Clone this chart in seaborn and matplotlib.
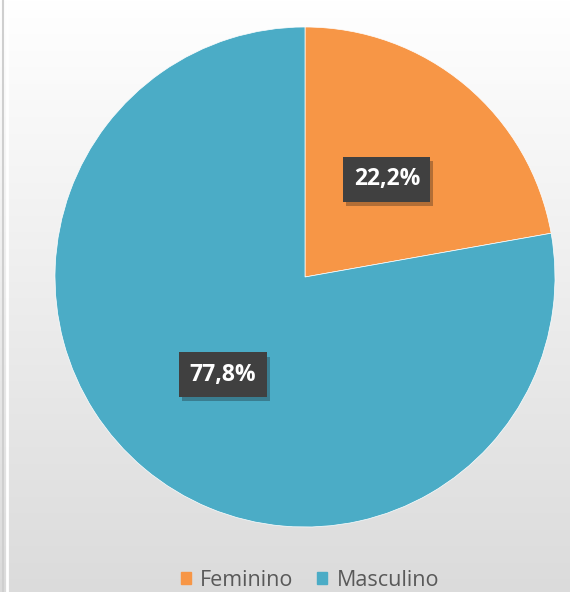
import numpy as np
import matplotlib
matplotlib.use('Agg')
import matplotlib.pyplot as plt
import matplotlib.patches as mpatches
import matplotlib.patheffects as pe
import seaborn as sns

# data
labels = ['Feminino', 'Masculino']
values = [22.2, 77.8]
colors = ['#F79646', '#4BACC6']

sns.set_theme(style='white')
plt.rcParams['font.family'] = ['Open Sans', 'DejaVu Sans']

fig = plt.figure(figsize=(5.70, 5.92), dpi=100)

# background gradient, white at top to light gray at bottom
bg = fig.add_axes([0, 0, 1, 1])
grad = np.linspace(1.0, 0.86, 256).reshape(-1, 1)
bg.imshow(np.dstack([grad, grad, grad]), aspect='auto', extent=[0, 1, 0, 1])
bg.axvline(0.006, color='#cfcfcf', lw=1.5)
bg.axvline(0.013, color='white', lw=2)
bg.set_axis_off()

# pie
ax = fig.add_axes([55 / 570, (592 - 527) / 592, 500 / 570, 500 / 592])
wedges, texts, autotexts = ax.pie(
    values, colors=colors, startangle=90, counterclock=False,
    autopct=lambda p: f'{p:.1f}%'.replace('.', ','), pctdistance=0.51,
    wedgeprops=dict(edgecolor='white', linewidth=0.5),
    textprops=dict(color='white', fontsize=16.5, fontweight='bold'))
for t in autotexts:
    t.set_bbox(dict(boxstyle='square,pad=0.45', fc='#404040', ec='none'))
    t.get_bbox_patch().set_path_effects(
        [pe.SimplePatchShadow(offset=(2, -3), alpha=0.3), pe.Normal()])
ax.set_xlim(-1, 1)
ax.set_ylim(-1, 1)
ax.set_aspect('equal')

handles = [mpatches.Patch(color=c, label=l) for c, l in zip(colors, labels)]
fig.legend(handles=handles, loc='center', bbox_to_anchor=(310 / 570, 12 / 592), ncol=2,
           frameon=False, fontsize=15.5, handlelength=0.45, handleheight=0.45,
           handletextpad=0.45, columnspacing=1.1, labelcolor='#595959')

fig.savefig('out.png', dpi=100)
